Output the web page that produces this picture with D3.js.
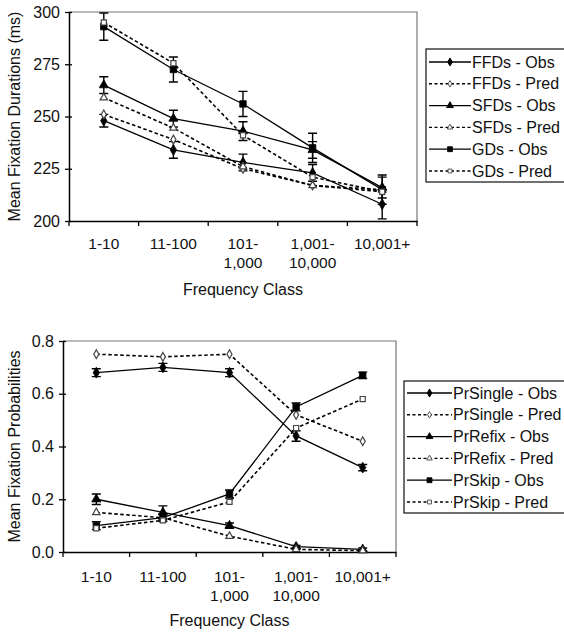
<!DOCTYPE html>
<html><head><meta charset="utf-8">
<script src="https://cdn.jsdelivr.net/npm/d3@7"></script>
<style>body{margin:0;background:#fff}svg{display:block}text{font-family:"Liberation Sans",Arial,sans-serif;fill:#111}</style>
</head><body>
<svg id="c" width="564" height="634"></svg>
<script>
const categories = ["1-10", "11-100", "101-\n1,000", "1,001-\n10,000", "10,001+"];

// Top panel: fixation durations (ms)
const durTicks = [200, 225, 250, 275, 300];
const ffdObs = [248, 234, 228, 223, 208];
const ffdObsErr = [3, 4, 4, 4, 7];
const ffdPred = [251, 239, 225, 217, 214];
const sfdObs = [265, 249, 243, 234, 216];
const sfdObsErr = [4, 4, 4.5, 4, 5];
const sfdPred = [259, 244.5, 226, 217, 215];
const gdObs = [293, 272.5, 256, 235, 215];
const gdObsErr = [6.5, 6, 6, 7, 7];
const gdPred = [295, 275.5, 241, 221, 214];
const durLabels = ["FFDs - Obs", "FFDs - Pred", "SFDs - Obs", "SFDs - Pred", "GDs - Obs", "GDs - Pred"];

// Bottom panel: fixation probabilities
const probTicks = [0.0, 0.2, 0.4, 0.6, 0.8];
const singleObs = [0.68, 0.70, 0.68, 0.44, 0.32];
const singleObsErr = [0.015, 0.015, 0.015, 0.02, 0.012];
const singlePred = [0.75, 0.74, 0.75, 0.52, 0.42];
const refixObs = [0.20, 0.15, 0.10, 0.02, 0.01];
const refixObsErr = [0.02, 0.025, 0.01, 0.005, 0.005];
const refixPred = [0.15, 0.13, 0.06, 0.01, 0.005];
const skipObs = [0.10, 0.13, 0.22, 0.55, 0.67];
const skipObsErr = [0.015, 0.015, 0.015, 0.015, 0.012];
const skipPred = [0.09, 0.12, 0.19, 0.47, 0.58];
const probLabels = ["PrSingle - Obs", "PrSingle - Pred", "PrRefix - Obs", "PrRefix - Pred", "PrSkip - Obs", "PrSkip - Pred"];

const svg = d3.select("#c");

function symbolFor(kind, obs) {
  const t = kind === "diamond" ? d3.symbolDiamond : kind === "triangle" ? d3.symbolTriangle : d3.symbolSquare;
  const size = obs ? (kind === "square" ? 42 : kind === "triangle" ? 36 : 34) : (kind === "square" ? 26 : kind === "triangle" ? 24 : 22);
  return d3.symbol().type(t).size(size)();
}

function panel(opt) {
  const g = svg.append("g");
  const x = d3.scaleBand().domain(categories).range([opt.left, opt.right]).padding(0);
  const y = d3.scaleLinear().domain(opt.domain).range([opt.bottom, opt.top]);
  // frame
  g.append("path").attr("d", `M${opt.left},${opt.top}H${opt.right}V${opt.bottom}`)
    .attr("fill", "none").attr("stroke", "#777").attr("stroke-width", 1.2);
  // y axis
  const ya = d3.axisLeft(y).tickValues(opt.ticks).tickFormat(opt.fmt).tickSizeInner(4).tickSizeOuter(0).tickPadding(5);
  const yg = g.append("g").attr("transform", `translate(${opt.left},0)`).call(ya);
  yg.select(".domain").attr("stroke", "#000").attr("stroke-width", 1.5);
  yg.selectAll(".tick line").attr("x1", 3).attr("x2", -4).attr("stroke-width", 1.3);
  yg.selectAll(".tick text").attr("font-size", 16).attr("fill", "#111").attr("font-family", "Liberation Sans, Arial, sans-serif");
  // x axis ticks at band boundaries
  const xa = d3.axisBottom(x).tickSize(0).tickFormat("");
  const xg = g.append("g").attr("transform", `translate(0,${opt.bottom})`).call(xa);
  xg.select(".domain").attr("stroke", "#000").attr("stroke-width", 1.5);
  const bounds = categories.map(c => x(c)).concat([x(categories[categories.length - 1]) + x.bandwidth()]);
  xg.selectAll(".bnd").data(bounds).join("line").attr("class", "bnd")
    .attr("x1", d => d).attr("x2", d => d).attr("y1", 0).attr("y2", 5)
    .attr("stroke", "#000").attr("stroke-width", 1.3);
  // x labels
  categories.forEach(c => {
    const lines = c.split("\n");
    const t = g.append("text").attr("text-anchor", "middle").attr("font-size", 15.5)
      .attr("x", x(c) + x.bandwidth() / 2);
    lines.forEach((l, i) => t.append("tspan").attr("x", x(c) + x.bandwidth() / 2)
      .attr("y", opt.bottom + opt.lab1 + i * 19).text(l));
  });
  g.append("text").attr("text-anchor", "middle").attr("font-size", 16)
    .attr("x", (opt.left + opt.right) / 2).attr("y", opt.bottom + opt.titleOff).text("Frequency Class");
  g.append("text").attr("text-anchor", "middle").attr("font-size", 16)
    .attr("transform", `translate(${opt.ytx},${(opt.top + opt.bottom) / 2}) rotate(-90)`).text(opt.ytitle);

  const cx = c => x(c) + x.bandwidth() / 2;
  opt.series.forEach(s => {
    const pts = s.values.map((v, i) => [cx(categories[i]), y(v)]);
    g.append("path").attr("d", d3.line()(pts)).attr("fill", "none").attr("stroke", "#000")
      .attr("stroke-width", s.obs ? 1.3 : 1.6).attr("stroke-dasharray", s.obs ? null : "3.5,2.5");
    if (s.err) {
      s.values.forEach((v, i) => {
        const px = cx(categories[i]), e = s.err[i];
        const y1 = y(v + e), y2 = y(v - e);
        g.append("path").attr("d", `M${px},${y1}V${y2}M${px - 4.5},${y1}H${px + 4.5}M${px - 4.5},${y2}H${px + 4.5}`)
          .attr("stroke", "#000").attr("stroke-width", 1.4).attr("fill", "none");
      });
    }
    pts.forEach(p => {
      g.append("path").attr("d", symbolFor(s.kind, s.obs))
        .attr("transform", `translate(${p[0]},${p[1]})`)
        .attr("fill", s.obs ? "#000" : "#fff").attr("stroke", s.obs ? "#000" : "#444").attr("stroke-width", s.obs ? 0.8 : 1.2);
    });
  });
  // legend
  const L = opt.legend;
  g.append("rect").attr("x", L.x).attr("y", L.y).attr("width", 566 - L.x).attr("height", L.h)
    .attr("fill", "#fff").attr("stroke", "#222").attr("stroke-width", 1.3);
  opt.series.forEach((s, i) => {
    const yy = L.y + L.first + i * L.step;
    g.append("line").attr("x1", L.x + 3).attr("x2", L.x + 3 + L.len).attr("y1", yy).attr("y2", yy)
      .attr("stroke", "#000").attr("stroke-width", s.obs ? 1.3 : 1.4).attr("stroke-dasharray", s.obs ? null : "3,2.5");
    g.append("path").attr("d", symbolFor(s.kind, s.obs)).attr("transform", `translate(${L.x + 3 + L.len / 2},${yy}) scale(0.75)`)
      .attr("fill", s.obs ? "#000" : "#fff").attr("stroke", s.obs ? "#000" : "#444").attr("stroke-width", 1.2);
    g.append("text").attr("x", L.x + 4 + L.len).attr("y", yy + 5.5).attr("font-size", 16).text(s.label);
  });
}

panel({
  left: 69, right: 417, top: 12, bottom: 221, domain: [200, 300], ticks: durTicks, fmt: d3.format("d"),
  lab1: 28, titleOff: 74, ytx: 20, ytitle: "Mean Fixation Durations (ms)",
  legend: { x: 426, y: 49, h: 133, first: 13, step: 21.8, len: 42 },
  series: [
    { values: ffdObs, err: ffdObsErr, obs: true, kind: "diamond", label: durLabels[0] },
    { values: ffdPred, obs: false, kind: "diamond", label: durLabels[1] },
    { values: sfdObs, err: sfdObsErr, obs: true, kind: "triangle", label: durLabels[2] },
    { values: sfdPred, obs: false, kind: "triangle", label: durLabels[3] },
    { values: gdObs, err: gdObsErr, obs: true, kind: "square", label: durLabels[4] },
    { values: gdPred, obs: false, kind: "square", label: durLabels[5] }
  ]
});

panel({
  left: 63, right: 396, top: 341, bottom: 552, domain: [0, 0.8], ticks: probTicks, fmt: d3.format(".1f"),
  lab1: 30, titleOff: 74, ytx: 20, ytitle: "Mean Fixation Probabilities",
  legend: { x: 404, y: 381, h: 132, first: 12, step: 21.8, len: 45 },
  series: [
    { values: singleObs, err: singleObsErr, obs: true, kind: "diamond", label: probLabels[0] },
    { values: singlePred, obs: false, kind: "diamond", label: probLabels[1] },
    { values: refixObs, err: refixObsErr, obs: true, kind: "triangle", label: probLabels[2] },
    { values: refixPred, obs: false, kind: "triangle", label: probLabels[3] },
    { values: skipObs, err: skipObsErr, obs: true, kind: "square", label: probLabels[4] },
    { values: skipPred, obs: false, kind: "square", label: probLabels[5] }
  ]
});
</script>
</body></html>
